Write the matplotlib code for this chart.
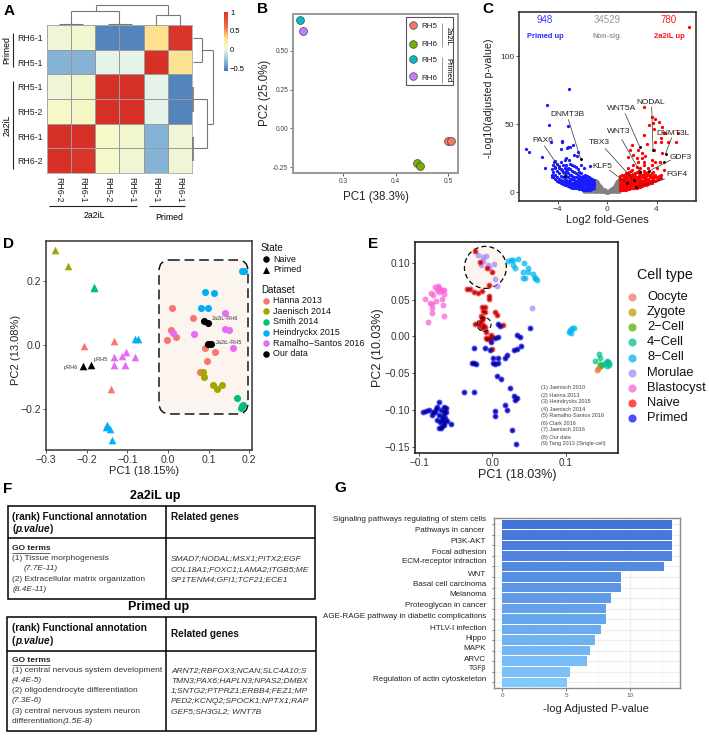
import matplotlib
matplotlib.use("Agg")
import matplotlib.pyplot as plt
import numpy as np
from matplotlib.colors import LinearSegmentedColormap
from matplotlib.patches import Rectangle, FancyBboxPatch, Ellipse

plt.rcParams["font.family"] = ["Liberation Sans", "DejaVu Sans"]
W, H = 709, 736

# panel A
heat_rows = ["RH6-1", "RH5-1", "RH5-1", "RH5-2", "RH6-1", "RH6-2"]
heat_cols = ["RH6-2", "RH6-1", "RH5-2", "RH5-1", "RH5-1", "RH6-1"]
heat_vals = [[0.03, 0.05, -0.52, -0.52, 0.30, 0.97],
             [-0.34, -0.34, -0.03, -0.03, 1.00, 0.28],
             [0.03, 0.06, 1.00, 1.00, -0.03, -0.52],
             [0.08, 0.09, 1.00, 1.00, -0.03, -0.52],
             [1.00, 1.00, 0.08, 0.06, -0.34, 0.03],
             [1.00, 0.97, 0.07, 0.04, -0.34, 0.03]]

# panel B
b_names = ["RH5", "RH6", "RH5", "RH6"]
b_colors = ["#f8766d", "#7cae00", "#00bfc4", "#c77cff"]
b_x = [[0.500, 0.505], [0.441, 0.447], [0.217], [0.224]]
b_y = [[-0.08, -0.08], [-0.225, -0.24], [0.70], [0.625]]

# panel C
volcano_blue = [(-3.08, 76.2), (-4.86, 64.2), (-4.7, 49.3), (-3.19, 49), (-6.54, 31.9), (-6.3, 29.4),
                (-5.3, 26.2), (-5.0, 18.1), (-4.57, 36.8), (-3.65, 37.5), (-3.14, 33.1), (-2.78, 34.6),
                (-3, 33.6), (-2.4, 29.9), (-2.46, 27), (-2.68, 27.5), (-4.3, 22.5), (-4.22, 18.8),
                (-3.89, 17.6), (-3.35, 25), (-3.08, 23.8), (-2.81, 20.1), (-2.54, 18.8), (-2.13, 20.1),
                (-1.87, 17.6), (-1.4, 19.6), (-3.76, 31.6), (-3.22, 32.4), (-3.62, 37.2), (-4.43, 11.5),
                (-3.62, 16.4), (-3.22, 16.4), (-2.95, 12.5),
                (-1.05, 3), (-1.05, 5), (-1.05, 7), (-1.05, 9), (-1.2, 2.5), (-1.2, 4.5), (-1.2, 6), (-1.2, 8),
                (-1.2, 9.5), (-1.35, 2), (-1.35, 3.5), (-1.35, 5.5), (-1.35, 7), (-1.35, 9), (-1.35, 10.5),
                (-1.5, 2), (-1.5, 4), (-1.5, 5.5), (-1.5, 7.5), (-1.5, 9), (-1.5, 11), (-1.65, 2), (-1.65, 3.5),
                (-1.65, 5), (-1.65, 6.5), (-1.65, 8.5), (-1.65, 10), (-1.65, 12), (-1.8, 2), (-1.8, 3.5),
                (-1.8, 5), (-1.8, 7), (-1.8, 9), (-1.8, 11), (-1.8, 13), (-1.95, 2), (-1.95, 3.5), (-1.95, 5.5),
                (-1.95, 7), (-1.95, 8.5), (-1.95, 10.5), (-1.95, 12), (-2.1, 2.5), (-2.1, 4), (-2.1, 5.5),
                (-2.1, 7), (-2.1, 9), (-2.1, 11), (-2.1, 14), (-2.25, 2.5), (-2.25, 4), (-2.25, 6), (-2.25, 8),
                (-2.25, 10), (-2.25, 12), (-2.25, 15), (-2.4, 3), (-2.4, 4.5), (-2.4, 6), (-2.4, 8), (-2.4, 10),
                (-2.4, 13), (-2.4, 17), (-2.55, 3), (-2.55, 4.5), (-2.55, 6.5), (-2.55, 8.5), (-2.55, 11),
                (-2.55, 14), (-2.7, 3.5), (-2.7, 5), (-2.7, 7), (-2.7, 9), (-2.7, 11), (-2.7, 15), (-2.7, 19),
                (-2.85, 3.5), (-2.85, 5.5), (-2.85, 7), (-2.85, 9.5), (-2.85, 12), (-2.85, 16), (-3.0, 4),
                (-3.0, 6), (-3.0, 8), (-3.0, 10), (-3.0, 13), (-3.0, 17), (-3.0, 21), (-3.15, 4.5), (-3.15, 6.5),
                (-3.15, 8.5), (-3.15, 11), (-3.15, 14), (-3.15, 18), (-3.3, 5), (-3.3, 7), (-3.3, 9), (-3.3, 12),
                (-3.3, 16), (-3.3, 20), (-3.45, 5.5), (-3.45, 7.5), (-3.45, 10), (-3.45, 14), (-3.45, 18),
                (-3.45, 24), (-3.6, 6), (-3.6, 8), (-3.6, 11), (-3.6, 15), (-3.6, 20), (-3.75, 6.5), (-3.75, 9),
                (-3.75, 12), (-3.75, 17), (-3.75, 22), (-3.9, 7.5), (-3.9, 10), (-3.9, 14), (-3.9, 19),
                (-4.05, 8.5), (-4.05, 11), (-4.05, 16), (-4.05, 21), (-4.2, 9.5), (-4.2, 13), (-4.2, 18),
                (-4.2, 23), (-4.35, 11), (-4.35, 15), (-4.35, 20), (-4.5, 13), (-4.5, 17)]
volcano_red = [(6.6, 121.6), (2.97, 62.5), (3.65, 55.6), (3.89, 53.9), (3.43, 49.5), (4.24, 51.9), (3.71, 50.7),
               (3.81, 46.3), (2.95, 42.1), (4.44, 47.8), (4.57, 43.4), (4.38, 39.7), (4.35, 36.8), (4.7, 43.4),
               (5.78, 43.8), (5.6, 37.2), (4.97, 37.2), (2.0, 34.8), (3.22, 35.5), (2.54, 31.1), (2.81, 28.7),
               (3.08, 26.7), (3.89, 37.2), (3.76, 31.1), (1.87, 31.1), (1.73, 26.2), (2.13, 27.4), (2.41, 25),
               (2.81, 25), (2.95, 22.5), (2.54, 22.5), (2.13, 20.1), (2.95, 20.1), (3.62, 23.8), (3.89, 22.5),
               (3.62, 20.1), (4.44, 28.7), (4.3, 22.5), (4.03, 17.6), (4.57, 16.4), (2.41, 18.8), (2.0, 16.4),
               (1.73, 17.6), (3.35, 17.6), (2.68, 17.6),
               (1.05, 2), (1.05, 4), (1.05, 6), (1.05, 8), (1.05, 10), (1.05, 12), (1.2, 2), (1.2, 4), (1.2, 6),
               (1.2, 8), (1.2, 10), (1.2, 12.5), (1.35, 2), (1.35, 3.5), (1.35, 5.5), (1.35, 7.5), (1.35, 9.5),
               (1.35, 11.5), (1.35, 13), (1.5, 2), (1.5, 4), (1.5, 6), (1.5, 8), (1.5, 10), (1.5, 12), (1.5, 14),
               (1.65, 2.5), (1.65, 4.5), (1.65, 6.5), (1.65, 8.5), (1.65, 10.5), (1.65, 12.5), (1.65, 14),
               (1.8, 2.5), (1.8, 4.5), (1.8, 6.5), (1.8, 8.5), (1.8, 10.5), (1.8, 13), (1.8, 15), (1.95, 3),
               (1.95, 5), (1.95, 7), (1.95, 9), (1.95, 11), (1.95, 13), (1.95, 15.5), (2.1, 3), (2.1, 5), (2.1, 7),
               (2.1, 9), (2.1, 11), (2.1, 13.5), (2.25, 3.5), (2.25, 5.5), (2.25, 7.5), (2.25, 9.5), (2.25, 12),
               (2.25, 14.5), (2.4, 3.5), (2.4, 5.5), (2.4, 7.5), (2.4, 9.5), (2.4, 11.5), (2.4, 15), (2.55, 4),
               (2.55, 6), (2.55, 8), (2.55, 10), (2.55, 12), (2.55, 14), (2.55, 16), (2.7, 4), (2.7, 6), (2.7, 8),
               (2.7, 10), (2.7, 12.5), (2.7, 15), (2.85, 4.5), (2.85, 6.5), (2.85, 8.5), (2.85, 11), (2.85, 13),
               (3.0, 5), (3.0, 7), (3.0, 9), (3.0, 11), (3.0, 13.5), (3.0, 16), (3.15, 5.5), (3.15, 7.5),
               (3.15, 9.5), (3.15, 12), (3.15, 14), (3.3, 6), (3.3, 8), (3.3, 10), (3.3, 12.5), (3.3, 15),
               (3.45, 6.5), (3.45, 8.5), (3.45, 11), (3.45, 13), (3.6, 7), (3.6, 9), (3.6, 11), (3.6, 14), (3.75, 8),
               (3.75, 10), (3.75, 12), (3.75, 15), (3.9, 8.5), (3.9, 11), (3.9, 13), (4.05, 9), (4.05, 11.5),
               (4.2, 9.5), (4.2, 12), (4.4, 10.5), (4.4, 13)]
volcano_grey = [(-1.9, 1), (-1.75, 1), (-1.75, 2), (-1.6, 0.8), (-1.6, 2.2), (-1.45, 0.8), (-1.45, 2.4), (-1.3, 0.8),
                (-1.3, 2.6), (-1.15, 0.8), (-1.15, 2.8), (-1.0, 0.8), (-1.0, 2.5), (-1.0, 4.5), (-0.9, 0.8), (-0.9, 3),
                (-0.9, 5.5), (-0.9, 8.5), (-0.8, 0.8), (-0.8, 3), (-0.8, 5.5), (-0.8, 7.5), (-0.7, 0.8), (-0.7, 2.5),
                (-0.7, 4.5), (-0.7, 6), (-0.6, 0.8), (-0.6, 2.5), (-0.6, 4.5), (-0.5, 0.8), (-0.5, 2.2), (-0.5, 3.5),
                (-0.4, 0.8), (-0.4, 2.2), (-0.3, 0.6), (-0.3, 1.8), (-0.2, 0.6), (-0.2, 1.4), (-0.1, 0.5), (0, 0.5),
                (0.1, 0.5), (0.2, 0.6), (0.2, 1.4), (0.3, 0.6), (0.3, 1.8), (0.4, 0.8), (0.4, 2.2), (0.5, 0.8),
                (0.5, 2.2), (0.5, 3.5), (0.6, 0.8), (0.6, 2.5), (0.6, 4.5), (0.7, 0.8), (0.7, 2.5), (0.7, 4.5), (0.7, 6),
                (0.8, 0.8), (0.8, 3), (0.8, 5.5), (0.8, 7.5), (0.9, 0.8), (0.9, 3), (0.9, 5.5), (0.9, 8.5), (1.0, 1),
                (1.0, 3), (1.0, 5.5), (1.0, 9)]
volcano_black = [(-2.14, 24.5), (-3.43, 12.3), (1.57, 6.9), (2.14, 9.3), (2.68, 15.2), (2.65, 33.6), (3.73, 31.4),
                 (4.73, 27.9), (4.6, 22.5), (2.35, 3.9), (3.4, 15.7)]
volcano_genes = ["DNMT3B", "PAX6", "TBX3", "KLF5", "WNT3", "WNT5A", "NODAL", "DNMT3L", "GDF3", "FGF4"]

# panel D
d_datasets = ["Hanna 2013", "Jaenisch 2014", "Smith 2014", "Heindryckx 2015", "Ramalho\u2212Santos 2016", "Our data"]
d_colors = ["#f8766d", "#a3a500", "#00bf7d", "#00b0f6", "#e76bf3", "#000000"]
d_naive = [[(0.011, 0.117), (0.062, 0.084), (0.008, 0.048), (-0.003, 0.018), (0.02, 0.025), (0.092, -0.007),
            (0.116, -0.021), (0.095, -0.05), (0.079, -0.082)],
           [(0.086, -0.084), (0.089, -0.1), (0.111, -0.125), (0.12, -0.136), (0.134, -0.124)],
           [(0.17, -0.164), (0.184, -0.1875), (0.18, -0.195), (0.183, -0.191)],
           [(0.092, 0.168), (0.112, 0.165), (0.081, 0.118), (0.098, 0.116), (0.181, 0.233), (0.187, 0.233)],
           [(0.14, 0.102), (0.012, 0.04), (0.064, 0.034), (0.139, 0.05), (0.151, 0.048), (0.161, -0.009)],
           [(0.089, 0.075), (0.098, 0.071), (0.099, 0.003), (0.107, 0.004)]]
d_primed = [[(-0.206, -0.001), (-0.132, 0.015), (-0.14, -0.135)],
            [(-0.277, 0.297), (-0.247, 0.247)],
            [(-0.183, 0.183), (-0.182, 0.18)],
            [(-0.081, 0.02), (-0.073, 0.02), (-0.151, -0.25), (-0.142, -0.262), (-0.138, -0.297), (-0.153, -0.254)],
            [(-0.134, -0.037), (-0.132, -0.06), (-0.112, -0.032), (-0.103, -0.02), (-0.082, -0.036), (-0.105, -0.0625)],
            [(-0.209, -0.065), (-0.19, -0.0615)]]

# panel E
e_types = ["Oocyte", "Zygote", "2\u2212Cell", "4\u2212Cell", "8\u2212Cell", "Morulae", "Blastocyst", "Naive", "Primed"]
e_colors = ["#f8766d", "#c49a00", "#53b400", "#00c094", "#00b6eb", "#a58aff", "#fb61d7", "#ff1010", "#1010ff"]
e_oocyte = [(0.143, -0.0462), (0.1448, -0.0449)]
e_zygote = [(0.148, -0.0403), (0.1462, -0.0415)]
e_2cell = [(0.1471, -0.0381)]
e_4cell = [(0.1462, -0.0245), (0.1403, -0.0331), (0.1471, -0.0299), (0.1562, -0.0335), (0.1585, -0.0345),
           (0.1598, -0.0367), (0.1562, -0.0399), (0.1598, -0.039), (0.1539, -0.0367), (0.1505, -0.0385)]
e_8cell = [(0.0219, 0.1024), (0.025, 0.1034), (0.0287, 0.1038), (0.0355, 0.1052), (0.0278, 0.097), (0.031, 0.0925),
           (0.0437, 0.0993), (0.0414, 0.087), (0.0492, 0.0925), (0.0492, 0.0879), (0.0423, 0.0789), (0.0551, 0.0848),
           (0.0583, 0.0798), (0.0606, 0.0766), (0.0587, 0.0789), (0.0446, 0.0798), (0.1052, 0.0054), (0.1093, 0.0109),
           (0.1116, 0.0109), (0.1061, 0.0086), (0.107, 0.005)]
e_morulae = [(-0.0191, 0.1102), (-0.0123, 0.1075), (-0.0086, 0.1093), (-0.0123, 0.102), (-0.0158, 0.0966),
             (-0.0062, 0.0975), (0.0019, 0.0979), (-0.0045, 0.0929), (0.0037, 0.0775), (0.006, 0.068), (0.0542, 0.0385)]
e_blast = [(-0.0751, 0.0684), (-0.0783, 0.0671), (-0.0728, 0.0661), (-0.0691, 0.0634), (-0.0656, 0.0634),
           (-0.0842, 0.0589), (-0.0806, 0.0566), (-0.076, 0.0626), (-0.0728, 0.0603), (-0.0669, 0.058),
           (-0.0919, 0.0503), (-0.0773, 0.048), (-0.0851, 0.0457), (-0.0691, 0.0503), (-0.0828, 0.0444),
           (-0.082, 0.0389), (-0.0678, 0.043), (-0.0828, 0.0317), (-0.066, 0.0276), (-0.0883, 0.0195)]
e_naive = [(-0.0232, 0.1156), (-0.0164, 0.1007), (-0.0072, 0.0933), (-0.0008, 0.0871), (-0.0045, 0.0702), (-0.035, 0.064),
           (-0.0305, 0.064), (-0.0246, 0.0603), (-0.0191, 0.0593), (-0.0137, 0.0616), (-0.0045, 0.0544), (-0.0045, 0.0502),
           (-0.0145, 0.0399), (-0.01, 0.0399), (-0.0123, 0.034), (-0.01, 0.0331), (0.0037, 0.0331), (0.0068, 0.0294),
           (-0.0158, 0.0276), (-0.0123, 0.0249), (-0.0145, 0.0218), (-0.0164, 0.0195), (-0.0236, 0.0171), (-0.0182, 0.015),
           (-0.0123, 0.0158), (-0.0145, 0.0113), (-0.01, 0.0127), (0.015, 0.0158), (-0.009, 0.0058), (-0.0018, 0.0022),
           (0.0, -0.001), (-0.0077, -0.0033), (-0.0031, -0.0033), (0.0, -0.0169), (-0.0086, -0.0027), (-0.0045, -0.0018)]
e_primed = [(-0.0943, -0.1026), (-0.091, -0.1012), (-0.0874, -0.0999), (-0.0724, -0.0898), (-0.076, -0.0958),
            (-0.0774, -0.0989), (-0.0792, -0.1026), (-0.082, -0.107), (-0.0806, -0.1035), (-0.0669, -0.0958),
            (-0.0637, -0.0971), (-0.07, -0.1003), (-0.0656, -0.1016), (-0.0728, -0.107), (-0.0669, -0.1061),
            (-0.0637, -0.1035), (-0.0692, -0.1094), (-0.076, -0.1139), (-0.0714, -0.117), (-0.0669, -0.117),
            (-0.0623, -0.1152), (-0.0647, -0.1116), (-0.0569, -0.1189), (-0.0683, -0.1216), (-0.0728, -0.1243),
            (-0.07, -0.1243), (-0.0669, -0.1207), (-0.0692, -0.1139),
            (-0.0254, -0.0159), (-0.0104, -0.0159), (-0.0031, -0.0186), (-0.0018, -0.0082), (0.0082, -0.0009),
            (0.0333, 0.0018), (0.0378, -0.0005), (0.0296, -0.0186), (0.0342, -0.0169), (0.0392, -0.0136), (0.0197, -0.025),
            (0.0178, -0.03), (0.0005, -0.03), (0.0074, -0.03), (0.0005, -0.0368), (0.0037, -0.038), (0.0078, -0.0368),
            (-0.0273, -0.0363), (-0.0246, -0.036), (-0.0227, -0.038), (0.006, -0.0536), (0.0115, -0.0585), (0.0246, -0.0708),
            (-0.0391, -0.0758), (-0.0254, -0.0758), (0.0296, -0.0812), (0.0342, -0.0835), (0.031, -0.0863), (0.0178, -0.0939),
            (0.0197, -0.1003), (0.0033, -0.1016), (0.0036, -0.108), (0.0265, -0.1271), (0.032, -0.1465), (0.0082, 0.0171),
            (0.0101, 0.0136), (0.0515, 0.0113), (0.0037, -0.0018)]
e_refs = ["(1) Jaenisch 2010", "(2) Hanna 2013", "(3) Heindrycks 2015", "(4) Jaenisch 2014", "(5) Ramalho-Santos 2016",
          "(6) Clark 2016", "(7) Jaenisch 2016", "(8) Our data", "(9) Tang 2013 (Single-cell)"]

# panel F
f_genes_a = ["SMAD7;NODAL;MSX1;PITX2;EGF", "COL18A1;FOXC1;LAMA2;ITGB5;ME", "SP1TENM4;GFI1;TCF21;ECE1"]
f_genes_b = ["ARNT2;RBFOX3;NCAN;SLC4A10;S", "TMN3;PAX6;HAPLN3;NPAS2;DMBX", "1;SNTG2;PTPRZ1;ERBB4;FEZ1;MP",
             "PED2;KCNQ2;SPOCK1;NPTX1;RAP", "GEF5;SH3GL2; WNT7B"]

# panel G
g_terms = ["Signaling pathways regulating of stem cells", "Pathways in cancer ", "PI3K-AKT", "Focal adhesion",
           "ECM-receptor intraction", "WNT", "Basal cell carcinoma", "Melanoma", "Proteoglycan in cancer",
           "AGE-RAGE pathway in diabetic complications", "HTLV-I infection", "Hippo", "MAPK", "ARVC",
           "TGF\u03b2", "Regulation of actin cytoskeleton"]
g_vals = [13.27, 13.27, 13.27, 13.27, 12.62, 9.27, 9.27, 8.49, 8.08, 8.08, 7.74, 7.22, 6.88, 6.62, 5.27, 5.09]


def box(x0, y0, x1, y1):
    return fig.add_axes([x0/W, 1-y1/H, (x1-x0)/W, (y1-y0)/H])


def style(ax, color, lw, size, tcolor="#333333"):
    for s in ax.spines.values():
        s.set_color(color)
        s.set_linewidth(lw)
    ax.tick_params(labelsize=size, length=2, width=0.6, pad=1.5, colors=tcolor)


def T(x, y, s, size=6, ha="left", va="center", **kw):
    ov.text(x, y, s, fontsize=size, ha=ha, va=va, **kw)


def L(xs, ys, color="black", lw=0.8, **kw):
    ov.plot(xs, ys, color=color, lw=lw, solid_capstyle="butt", **kw)


def xy(pts):
    return [p[0] for p in pts], [p[1] for p in pts]


fig = plt.figure(figsize=(W/100, H/100), dpi=100)
ov = fig.add_axes([0, 0, 1, 1], zorder=10)
ov.set_xlim(0, W)
ov.set_ylim(H, 0)
ov.axis("off")
ov.patch.set_visible(False)

for s, x, y in [("A", 9, 11), ("B", 263, 9), ("C", 488, 9), ("D", 9, 244), ("E", 373, 244), ("F", 8, 489), ("G", 340, 488)]:
    T(x, y, s, size=11, ha="center", weight="bold")

# A heatmap
anchors = [(-0.58, "#4575b4"), (-0.3, "#91bfdb"), (-0.03, "#e6f3e8"), (0.08, "#f6f8c8"), (0.3, "#fee08f"),
           (0.6, "#f46d43"), (1.0, "#d73027")]
cmap = LinearSegmentedColormap.from_list("hm", [((v+0.58)/1.58, c) for v, c in anchors])
a = box(47, 25, 192, 173)
im = a.pcolormesh(np.array(heat_vals), cmap=cmap, vmin=-0.58, vmax=1, edgecolors="#9a9a9a", linewidth=0.5)
a.invert_yaxis()
a.set_xticks(np.arange(6)+0.5)
a.set_xticklabels(heat_cols, rotation=-90, fontsize=6.3, color="#222222")
a.set_yticks(np.arange(6)+0.5)
a.set_yticklabels(heat_rows, fontsize=6.3, color="#222222")
a.tick_params(length=0, pad=3)
for s in a.spines.values():
    s.set_color("#aaaaaa")
    s.set_linewidth(0.6)
cax = box(224, 12, 228, 71)
cb = fig.colorbar(im, cax=cax, ticks=[-0.5, 0, 0.5, 1])
cb.ax.set_yticklabels(["\u22120.5", "0", "0.5", "1"], fontsize=5.5)
cb.ax.tick_params(length=0, pad=1.5)
cb.outline.set_visible(False)

g = "#777777"
L([95.7, 168.3], [4.7, 4.7], g)
L([95.7, 95.7], [4.7, 10.7], g)
L([71.3, 119.3], [10.7, 10.7], g)
L([71.3, 71.3], [10.7, 24], g)
L([119.3, 119.3], [10.7, 24], g)
L([59.3, 83.3], [24.4, 24.4], g)
L([107.7, 131.7], [24.4, 24.4], g)
L([168.3, 168.3], [4.7, 15], g)
L([156, 180], [15, 15], g)
L([156, 156], [15, 25], g)
L([180, 180], [15, 25], g)
L([192.6, 202.3], [37.7, 37.7], g)
L([192.6, 202.3], [62.3, 62.3], g)
L([202.3, 202.3], [37.7, 62.3], g)
L([202.3, 213.3], [50, 50], g)
L([213.3, 213.3], [50, 124], g)
L([206.7, 213.3], [124, 124], g)
L([206.7, 206.7], [99.3, 148.3], g)
L([193, 206.7], [99.3, 99.3], g)
L([193, 206.7], [148.3, 148.3], g)
L([193, 193], [87.3, 111.7], g, lw=1.2)
L([193, 193], [136.7, 161], g, lw=1.2)
L([12.7, 12.7], [33, 67], "#222222")
L([12.7, 12.7], [81, 169], "#222222")
L([49, 137], [206, 206], "#222222")
L([149, 185], [206, 206], "#222222")
T(7, 50, "Primed", size=6.3, ha="center", rotation=90)
T(7, 125, "2a2iL", size=6.3, ha="center", rotation=90)
T(94, 215, "2a2iL", size=6.3, ha="center")
T(169, 217, "Primed", size=6.3, ha="center")

# B pca
b = box(293, 14, 458, 173)
for i in range(4):
    b.scatter(b_x[i], b_y[i], s=32, c=b_colors[i], edgecolors="#444444", linewidths=0.5)
b.set_xlim(0.204, 0.519)
b.set_ylim(-0.288, 0.737)
b.set_xticks([0.3, 0.4, 0.5])
b.set_yticks([-0.25, 0, 0.25, 0.5])
b.set_yticklabels(["-0.25", "0.00", "0.25", "0.50"])
style(b, "#999999", 1.4, 4.8, "#444444")
T(376, 197, "PC1 (38.3%)", size=8.3, ha="center", color="#222222")
T(265, 93, "PC2 (25.0%)", size=8.3, ha="center", rotation=90, color="#222222")
ov.add_patch(Rectangle((406, 17), 47, 68, fc="white", ec="#555555", lw=0.8))
for i, (yk, yt) in enumerate(zip([24.6, 43.7, 59, 76], [26, 44, 60, 78])):
    ov.scatter([413], [yk], s=30, c=b_colors[i], edgecolors="#444444", linewidths=0.5)
    T(421, yt, b_names[i], size=5.8, color="#222222")
L([442, 442], [23, 47], "#888888", lw=0.6)
L([442, 442], [57, 83], "#888888", lw=0.6)
T(448, 36, "2a2iL", size=5.5, ha="center", rotation=-90)
T(448, 70, "Primed", size=5.5, ha="center", rotation=-90)

# C volcano
c = box(519, 12, 696, 201)
c.scatter(*xy(volcano_grey), s=10, c="#808080", linewidths=0)
c.scatter(*xy(volcano_blue), s=5.5, c="#1a1aff", linewidths=0)
c.scatter(*xy(volcano_red), s=5.5, c="#ff0000", linewidths=0)
c.scatter(*xy(volcano_black), s=4.5, c="black", linewidths=0)
c.set_xlim(-7.14, 7.2)
c.set_ylim(-6.4, 132.6)
c.set_xticks([-4, 0, 4])
c.set_xticklabels(["\u22124", "0", "4"])
c.set_yticks([0, 50, 100])
style(c, "#333333", 1.2, 6)
T(607, 220, "Log2 fold-Genes", size=8, ha="center", color="#222222")
T(489, 98, "-Log10(adjusted p-value)", size=7.7, ha="center", rotation=90, color="#222222")
T(545, 20, "948", size=7, ha="center", color="#3a3aff")
T(607, 20, "34529", size=7, ha="center", color="#999999")
T(669, 20, "780", size=7, ha="center", color="#ff2020")
T(545, 36, "Primed up", size=5.4, ha="center", weight="bold", color="#2a2aff")
T(607, 36, "Non-sig.", size=5.4, ha="center", weight="bold", color="#999999")
T(669, 36, "2a2iL up", size=5.4, ha="center", weight="bold", color="#ff1010")
c_text = [(117.3, 115), (92.7, 140.7), (149, 143), (152, 166), (169, 131.7), (171.3, 108.3), (200.3, 102), (223.3, 133.3),
          (230.7, 157.3), (226.7, 174)]
c_seg = [(118.3, 119.3, 130.7, 159), (94.3, 145.7, 114.7, 175.7), (155, 148.3, 183.3, 179.7), (159.3, 170, 176.3, 183),
         (171.7, 139.3, 190, 171.7), (175, 113.3, 189.7, 146.7), (201.7, 106.7, 203, 149.7), (221.7, 137.7, 215.3, 154.3),
         (220.7, 160, 199, 171), (215, 179, 186, 187)]
for name, (tx, ty), (x0, y0, x1, y1) in zip(volcano_genes, c_text, c_seg):
    T(450+tx, ty, name, size=6, ha="center", color="#222222")
    L([450+x0, 450+x1], [y0, y1], "#333333", lw=0.5)

# D pca
d = box(46, 241, 252, 450)
d.add_patch(FancyBboxPatch((170, 271), 67, 132, boxstyle="round,pad=11,rounding_size=11", transform=ov.transData,
                           fc="#fcf5ef", ec="black", lw=1, ls=(0, (7, 3.5)), zorder=1))
for i in range(6):
    d.scatter(*xy(d_naive[i]), s=26, c=d_colors[i], marker="o", linewidths=0, zorder=3)
    d.scatter(*xy(d_primed[i]), s=30, c=d_colors[i], marker="^", linewidths=0, zorder=3)
d.set_xlim(-0.3, 0.2066)
d.set_ylim(-0.327, 0.326)
d.set_xticks([-0.3, -0.2, -0.1, 0, 0.1, 0.2])
d.set_xticklabels(["\u22120.3", "\u22120.2", "\u22120.1", "0.0", "0.1", "0.2"])
d.set_yticks([-0.2, 0, 0.2])
d.set_yticklabels(["\u22120.2", "0.0", "0.2"])
style(d, "#444444", 1.2, 7.6)
T(144, 471, "PC1 (18.15%)", size=8, ha="center", color="#222222")
T(16, 350, "PC2 (13.08%)", size=8, ha="center", rotation=90, color="#222222")
T(225, 319, "2a2iL-RH6", size=4, ha="center", color="#333333")
T(229, 342, "2a2iL-RH5", size=4, ha="center", color="#333333")
T(71, 367, "pRH6", size=4, ha="center", color="#333333")
T(101, 360, "pRH5", size=4, ha="center", color="#333333")
T(261, 248, "State", size=7, color="#111111")
ov.scatter([266], [259], s=22, c="black", marker="o", linewidths=0)
ov.scatter([266], [270], s=26, c="black", marker="^", linewidths=0)
T(273, 259, "Naive", size=6.4, color="#111111")
T(273, 270, "Primed", size=6.4, color="#111111")
T(261, 290, "Dataset", size=7, color="#111111")
for i, yy in enumerate([300.7, 311, 322, 332.7, 343, 353.7]):
    ov.scatter([266], [yy], s=22, c=d_colors[i], marker="o", linewidths=0)
    T(273, yy, d_datasets[i], size=6.4, color="#111111")

# E pca
e = box(414.7, 242.3, 618, 453.3)
e.add_patch(Ellipse((-0.0096, 0.0938), 0.0574, 0.0571, fc="#fcf5ef", ec="black", lw=0.9, ls=(0, (4, 2.5)), zorder=1))
e_groups = [e_oocyte, e_zygote, e_2cell, e_4cell, e_8cell, e_morulae, e_blast, e_naive, e_primed]
for i, pts in enumerate(e_groups):
    e.scatter(*xy(pts), s=18, c=e_colors[i], alpha=0.75, linewidths=0, zorder=3)
e.scatter(*xy(e_naive), s=5, c="#600000", alpha=0.6, linewidths=0, zorder=4)
e.scatter(*xy(e_primed), s=6, c="#000060", alpha=0.7, linewidths=0, zorder=4)
e.add_patch(Ellipse((-0.0114, 0.0163), 0.019, 0.019, fc="none", ec="black", lw=0.8, ls=(0, (4, 2.5)), zorder=5))
e.set_xlim(-0.1063, 0.1717)
e.set_ylim(-0.159, 0.1279)
e.set_xticks([-0.1, 0, 0.1])
e.set_xticklabels(["\u22120.1", "0.0", "0.1"])
e.set_yticks([-0.15, -0.1, -0.05, 0, 0.05, 0.1])
e.set_yticklabels(["\u22120.15", "\u22120.10", "\u22120.05", "0.00", "0.05", "0.10"])
style(e, "#222222", 1.2, 7.2)
T(517, 475, "PC1 (18.03%)", size=9, ha="center", color="#222222")
T(378, 348, "PC2 (10.03%)", size=9, ha="center", rotation=90, color="#222222")
for i, s in enumerate(e_refs):
    T(541, 388+i*7, s, size=4, color="#444444")
T(637, 275, "Cell type", size=10.3, color="#111111")
for i, s in enumerate(e_types):
    yy = 296.7+i*15.2
    ov.scatter([632], [yy], s=34, c=e_colors[i], alpha=0.75, linewidths=0)
    T(647, yy, s, size=9.3, color="#111111")

# F tables
for x0, x1, xm, ys in [(8, 315, 166, (505.7, 538.3, 599.3)), (7, 316, 166, (617.3, 650.7, 731))]:
    ov.add_patch(Rectangle((x0, ys[0]), x1-x0, ys[2]-ys[0], fc="white", ec="black", lw=1.1))
    L([x0, x1], [ys[1], ys[1]], "black", lw=1.1)
    L([xm, xm], [ys[0], ys[2]], "black", lw=1.1)
T(155, 496, "2a2iL up", size=9, ha="center", weight="bold")
T(159, 607, "Primed up", size=9, ha="center", weight="bold")
for x, y1, y2 in [(12.3, 517, 529), (11.7, 628, 640.7)]:
    T(x, y1, "(rank) Functional annotation", size=7.2, weight="bold", color="#111111")
    T(x, y2, "(", size=7.2, weight="bold", color="#111111")
    T(x+3.3, y2, "p.value", size=7.2, weight="bold", style="italic", color="#111111")
    T(x+38, y2, ")", size=7.2, weight="bold", color="#111111")
T(171, 517, "Related genes", size=7.2, weight="bold", color="#111111")
T(171, 634.3, "Related genes", size=7.2, weight="bold", color="#111111")
T(12.3, 549, "GO terms", size=6, weight="bold", color="#222222")
L([12.3, 50], [553, 553], "#222222", lw=0.5)
T(12.3, 559, "(1) Tissue morphogenesis", size=6, color="#333333")
T(24, 569, "(7.7E-11)", size=6, style="italic", color="#333333")
T(12.3, 579.3, "(2) Extracellular matrix organization", size=6, color="#333333")
T(12.3, 589.3, "(8.4E-11)", size=6, style="italic", color="#333333")
for i, s in enumerate(f_genes_a):
    T(171, 559+i*10.2, s, size=6.05, style="italic", color="#333333")
T(11.7, 660.3, "GO terms", size=6, weight="bold", color="#222222")
L([11.7, 49.5], [664.5, 664.5], "#222222", lw=0.5)
T(11.7, 670.7, "(1) central nervous system development", size=6, color="#333333")
T(11.7, 680.7, "(4.4E-5)", size=6, style="italic", color="#333333")
T(11.7, 691, "(2) oligodendrocyte differentiation", size=6, color="#333333")
T(11.7, 701, "(7.3E-6)", size=6, style="italic", color="#333333")
T(11.7, 711.3, "(3) central nervous system neuron", size=6, color="#333333")
T(11.7, 721.7, "differentiation ", size=6, color="#333333")
T(62.5, 721.7, "(1.5E-8)", size=6, style="italic", color="#333333")
for i, s in enumerate(f_genes_b):
    T(171, 670.7+i*10.15, s, size=6.05, style="italic", color="#333333")

# G bars
gax = box(493.7, 518, 680, 688.3)
top_c = np.array([0x44, 0x72, 0xd8])/255
bot_c = np.array([0x80, 0xc8, 0xfb])/255
g_colors = [top_c+(bot_c-top_c)*i/15 for i in range(16)]
gax.barh(np.arange(16), g_vals, height=0.9, color=g_colors, zorder=3)
gax.set_xlim(-0.65, 13.87)
gax.set_ylim(15.57, -0.6)
gax.set_xticks([0, 5, 10])
gax.set_xticks([2.5, 7.5, 12.5], minor=True)
gax.set_yticks(np.arange(16))
gax.set_yticklabels([])
gax.grid(which="major", color="#eeeeee", lw=0.9, zorder=0)
gax.grid(which="minor", axis="x", color="#f4f4f4", lw=0.5, zorder=0)
style(gax, "#8a8a8a", 1, 4.5, "#555555")
gax.tick_params(axis="y", length=1.5, pad=1)
gax.tick_params(which="minor", length=0)
g_label_y = [118, 152, 185, 217, 245, 283, 314, 343, 376, 411, 445, 477, 507, 539, 567, 598]
for i, s in enumerate(g_terms):
    T(486.3, 480+g_label_y[i]/3, s, size=4.8 if s == "TGF\u03b2" else 5.8, ha="right", color="#222222")
T(596, 709, "-log Adjusted P-value", size=8, ha="center", color="#222222")

plt.savefig("out.png", dpi=100)
